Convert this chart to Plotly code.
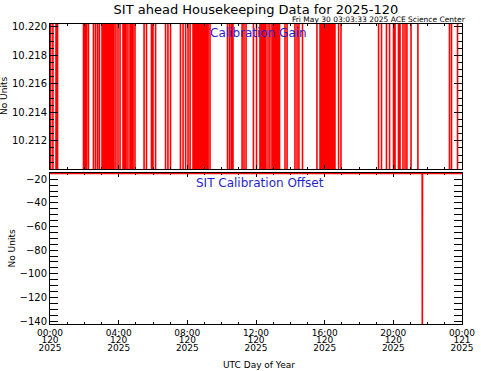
import plotly.graph_objects as go
import pandas as pd

# ---------------- data ----------------
DAY_START = pd.Timestamp("2025-04-30 00:00")  # 2025 day-of-year 120

# hours (UTC) at which the calibration gain flips between its two states
gain_switch_hours = [
    0.04, 0.17, 0.35, 0.44,
    1.95, 2.04, 2.13, 2.24,
    2.53, 2.65, 2.77, 2.88,
    3.03, 3.11, 3.20, 3.29, 3.38, 3.46, 3.55, 3.64, 3.73,
    3.84, 3.96, 4.08,
    4.25, 4.34, 4.43, 4.54, 4.66, 4.75, 4.84, 4.95,
    5.48, 5.62,
    5.91, 6.00, 6.15,
    6.73, 6.87, 7.02,
    7.60, 7.75, 7.90, 8.04, 8.16,
    8.33, 8.42, 8.51, 8.59, 8.68, 8.77, 8.86, 8.94, 9.03, 9.12, 9.21, 9.32,
    10.34, 10.46, 10.57, 10.66,
    11.19, 11.30, 11.42,
    11.85, 12.03,
    12.23, 12.32, 12.41, 12.49, 12.58, 12.70, 12.81, 12.93, 13.02, 13.11, 13.20, 13.28, 13.37,
    13.69, 13.81,
    14.27, 14.39, 14.50,
    14.71,
    15.55,
    15.73, 15.81, 15.90, 15.99, 16.08, 16.17, 16.25, 16.34, 16.43, 16.52, 16.60,
    16.81, 16.95,
    19.14, 19.31,
    19.60, 19.78,
    20.01, 20.10,
    20.30, 20.39,
    20.56, 20.68, 20.79,
    21.03,
    21.43,
    23.27, 23.39,
    23.74,
]
gain_high = 10.2206
gain_low = 10.2096

offset_hours = [0.0, 21.68, 21.69, 21.70, 24.0]
offset_values = [-15.0, -15.0, -150.0, -15.0, -15.0]

tick_hours = [0, 4, 8, 12, 16, 20, 24]
tick_time_labels = ["00:00", "04:00", "08:00", "12:00", "16:00", "20:00", "00:00"]
tick_doy_labels = ["120", "120", "120", "120", "120", "120", "121"]
tick_year_labels = ["2025", "2025", "2025", "2025", "2025", "2025", "2025"]

# ---------------- build series ----------------
gain_hours = [0.0] + gain_switch_hours + [24.0]
gain_values = [gain_low]
state = gain_low
for _ in gain_switch_hours:
    state = gain_high if state == gain_low else gain_low
    gain_values.append(state)
gain_values.append(state)

to_time = lambda hs: [DAY_START + pd.Timedelta(hours=h) for h in hs]
gain_t = to_time(gain_hours)
off_t = to_time(offset_hours)
tick_t = to_time(tick_hours)
x_range = [DAY_START, DAY_START + pd.Timedelta(hours=24)]

FONT = "DejaVu Sans"

fig = go.Figure()
fig.add_trace(go.Scatter(x=gain_t, y=gain_values, mode="lines",
                         line=dict(color="#ff0000", width=1.6, shape="hv"),
                         xaxis="x", yaxis="y", hoverinfo="skip"))
fig.add_trace(go.Scatter(x=off_t, y=offset_values, mode="lines",
                         line=dict(color="#ff0000", width=1.6),
                         xaxis="x2", yaxis="y2", hoverinfo="skip"))
# invisible copies so the extra label rows (day, year) get drawn
for xa in ("x3", "x4"):
    fig.add_trace(go.Scatter(x=off_t, y=offset_values, mode="lines",
                             line=dict(color="rgba(0,0,0,0)", width=0),
                             xaxis=xa, yaxis="y2", hoverinfo="skip"))

axis_common = dict(showline=True, linecolor="black", linewidth=1, mirror="allticks",
                   ticks="inside", tickcolor="black", showgrid=False, zeroline=False,
                   automargin=False)

minor_x = dict(dtick=3600000, ticks="inside", ticklen=2, tickcolor="black", showgrid=False)

label_axis = dict(overlaying="x2", anchor="y2", side="bottom", type="date", range=x_range,
                  tickvals=tick_t, ticks="", showline=False, showgrid=False,
                  zeroline=False, tickfont=dict(size=9), automargin=False)

fig.update_layout(
    width=481, height=371,
    margin=dict(l=50, r=19, t=24, b=47, autoexpand=False),
    paper_bgcolor="white", plot_bgcolor="white",
    showlegend=False,
    font=dict(family=FONT, color="black", size=10),
    title=dict(text="SIT ahead Housekeeping Data for 2025-120",
               font=dict(family=FONT, size=13, color="black"),
               x=0.5, xref="paper", xanchor="center",
               y=1 - 9 / 371, yref="container", yanchor="middle"),
    xaxis=dict(domain=[0, 1], anchor="y", type="date", range=x_range,
               tickvals=tick_t, showticklabels=False, ticklen=4,
               minor=minor_x, **axis_common),
    yaxis=dict(domain=[0.5167, 1], anchor="x", range=[10.21002, 10.2202],
               tick0=10.212, dtick=0.002, tickformat=".3f", ticklen=8,
               tickfont=dict(size=10),
               minor=dict(dtick=0.0005, ticks="inside", ticklen=4, tickcolor="black", showgrid=False),
               **axis_common),
    xaxis2=dict(domain=[0, 1], anchor="y2", type="date", range=x_range,
                tickvals=tick_t, ticktext=tick_time_labels, ticklen=4,
                tickfont=dict(size=9), layer="below traces",
                minor=minor_x, **axis_common),
    yaxis2=dict(domain=[0, 0.5033], anchor="x2", range=[-142.5, -14.7],
                tick0=-140, dtick=20, ticklen=8, tickfont=dict(size=10),
                layer="below traces",
                minor=dict(dtick=5, ticks="inside", ticklen=4, tickcolor="black", showgrid=False),
                **axis_common),
    xaxis3=dict(ticktext=tick_doy_labels, ticklabelstandoff=9, **label_axis),
    xaxis4=dict(ticktext=tick_year_labels, ticklabelstandoff=17, **label_axis),
)

fig.add_annotation(text="Fri May 30 03:03:33 2025 ACE Science Center",
                   xref="paper", yref="paper", x=(468 - 50) / 412, y=1 + 5 / 300,
                   xanchor="right", yanchor="middle", showarrow=False,
                   font=dict(family=FONT, size=7.5, color="black"))
fig.add_annotation(text="Calibration Gain", xref="x domain", yref="y domain",
                   x=0.5066, y=0.936, xanchor="center", yanchor="middle", showarrow=False,
                   font=dict(family=FONT, size=12, color="#1f1fd0"))
fig.add_annotation(text="SIT Calibration Offset", xref="x2 domain", yref="y2 domain",
                   x=0.5085, y=0.934, xanchor="center", yanchor="middle", showarrow=False,
                   font=dict(family=FONT, size=12, color="#1f1fd0"))
fig.add_annotation(text="No Units", xref="paper", yref="y domain",
                   x=(4.5 - 50) / 412, y=0.5, textangle=-90, xanchor="center", yanchor="middle",
                   showarrow=False, font=dict(family=FONT, size=9, color="black"))
fig.add_annotation(text="No Units", xref="paper", yref="y2 domain",
                   x=(12 - 50) / 412, y=0.5, textangle=-90, xanchor="center", yanchor="middle",
                   showarrow=False, font=dict(family=FONT, size=9, color="black"))
fig.add_annotation(text="UTC Day of Year", xref="paper", yref="paper",
                   x=0.5066, y=-(365 - 324) / 300, xanchor="center", yanchor="middle",
                   showarrow=False, font=dict(family=FONT, size=9, color="black"))

fig.write_html("out.html",
               config={"displayModeBar": False, "staticPlot": True},
               post_script="document.body.style.margin='0px';document.body.style.padding='0px';")
